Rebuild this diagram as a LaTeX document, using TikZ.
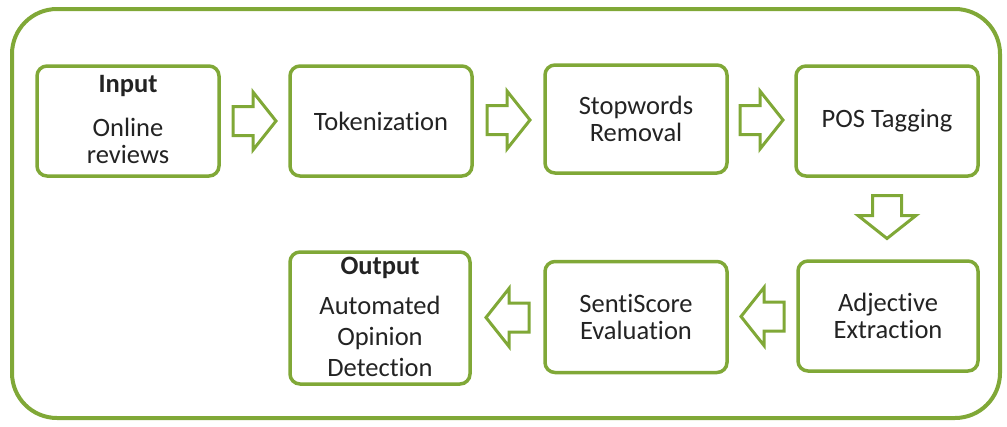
\documentclass[tikz,border=0pt]{standalone}
\usepackage{fontspec}
\setmainfont[Ligatures=NoCommon]{Carlito}
\usetikzlibrary{calc}
\definecolor{lgreen}{RGB}{128,168,55}
\definecolor{txt}{RGB}{35,35,35}
\tikzset{
  procbox/.style={draw=lgreen, line width=3.5pt, rounded corners=10pt, fill=white,
    align=center, text=txt, font=\fontsize{26.5}{27}\selectfont, inner sep=0pt},
  arrowline/.style={draw=lgreen, line width=3pt, fill=white, line join=miter},
  blockarrow/.pic={
    \path[arrowline] (-21.5,-14.5) -- (-1.5,-14.5) -- (-1.5,-29) -- (21.5,0)
      -- (-1.5,29) -- (-1.5,14.5) -- (-21.5,14.5) -- cycle;
  }
}
\begin{document}
\begin{tikzpicture}[x=1pt,y=-1pt]
\useasboundingbox (0,0) rectangle (1007,426);
\draw[draw=lgreen, line width=4pt, rounded corners=45pt] (12,9) rectangle (1000,418);
% top row
\node[procbox, minimum width=182pt, minimum height=110pt] (in) at (128,121) {};
\node[text=txt, font=\fontsize{26.5}{27}\selectfont\bfseries] (inT) at (128,86) {Input};
\node[text=txt, font=\fontsize{26.5}{27}\selectfont, align=center] (inB) at (128,141) {Online\\reviews};
\node[procbox, minimum width=182pt, minimum height=110pt] (tok) at (381,121) {Tokenization};
\node[procbox, minimum width=182pt, minimum height=108pt] (stop) at (636,119) {Stopwords\\Removal};
\node[procbox, minimum width=182pt, minimum height=110pt] (pos) at (887,121) {POS Tagging};
% bottom row
\node[procbox, minimum width=180pt, minimum height=110pt] (adj) at (888,316) {Adjective\\Extraction};
\node[procbox, minimum width=182pt, minimum height=111pt] (senti) at (636,317) {SentiScore\\Evaluation};
\node[procbox, minimum width=180pt, minimum height=132pt] (out) at (380,318) {};
\node[text=txt, font=\fontsize{26.5}{27}\selectfont\bfseries] (outT) at (380,268) {Output};
\node[text=txt, font=\fontsize{26.5}{31}\selectfont, align=center] (outB) at (380,336) {Automated\\Opinion\\Detection};
% arrows
\path ($(in.east)!0.5!(tok.west)$) pic {blockarrow};
\path ($(tok.east)!0.5!(stop.west)$) pic {blockarrow};
\path ($(stop.east)!0.5!(pos.west)$) pic {blockarrow};
\path (887,217) pic[rotate=-90] {blockarrow};
\path ($(adj.west)!0.5!(senti.east)$) pic[rotate=180] {blockarrow};
\path ($(senti.west)!0.5!(out.east)$) pic[rotate=180] {blockarrow};
\end{tikzpicture}
\end{document}
